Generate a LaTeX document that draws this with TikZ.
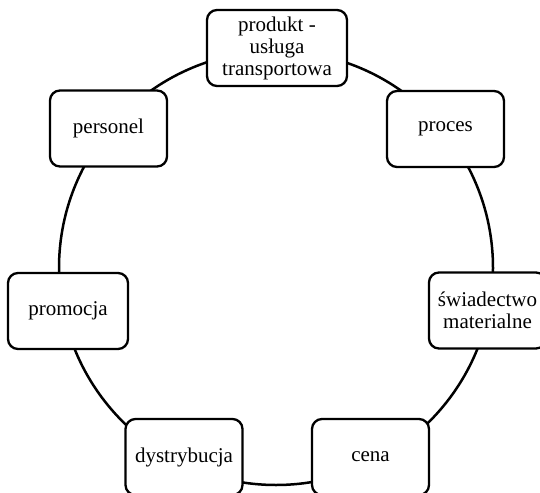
\documentclass[tikz,border=0pt]{standalone}
\usepackage{fontspec}
\setmainfont{Liberation Serif}
\begin{document}
\begin{tikzpicture}[x=1pt,y=-1pt,
  box/.style={draw=black, line width=2.3pt, rounded corners=10pt, fill=white,
    minimum width=117pt, minimum height=76pt, inner sep=2pt, align=center,
    font=\fontsize{21}{22}\selectfont},
  ring/.style={draw=black, line width=2.5pt, circle, minimum size=434pt, inner sep=0pt}]
\useasboundingbox (0,0) rectangle (540,492);
\clip (0,0) rectangle (540,492);
\fill[white] (0,0) rectangle (540,492);
\node[ring] (r) at (276,268) {};
\node[box, minimum width=140pt] (prod) at (277,48) {produkt -\\usługa\\transportowa};
\node[box] (pers) at (108.5,128.5) {personel};
\node[box] (proc) at (445.5,129) {proces};
\node[box] (swi) at (487.5,310.5) {świadectwo\\materialne};
\node[box, minimum width=120pt] (prom) at (68,311) {promocja};
\node[box] (dys) at (184,457) {dystrybucja};
\node[box] (cena) at (370.5,457) {cena};
\end{tikzpicture}
\end{document}
